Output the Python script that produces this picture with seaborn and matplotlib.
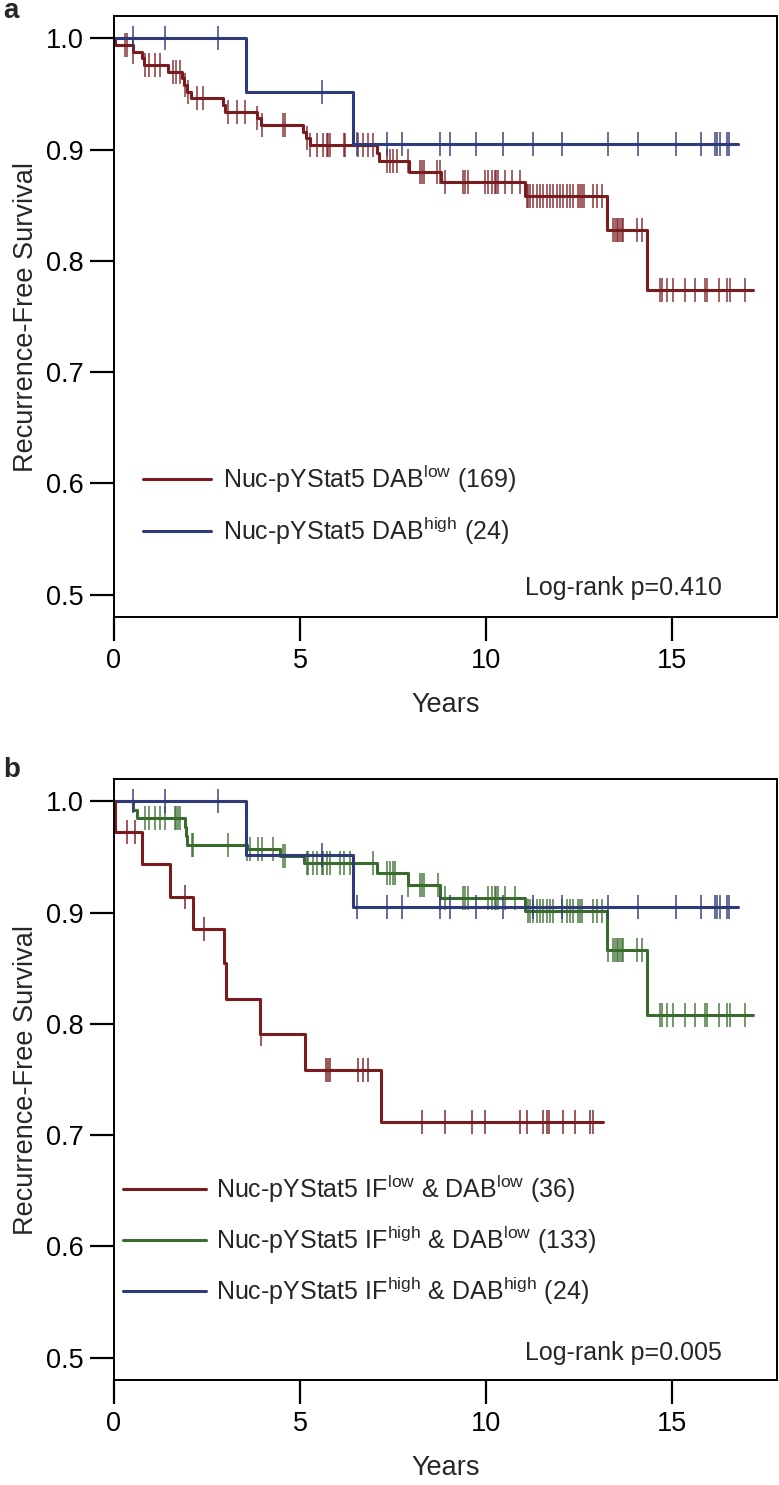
"""Kaplan-Meier recurrence-free survival by nuclear pYStat5 status (panels a and b)."""

import matplotlib
matplotlib.use("Agg")
import matplotlib.pyplot as plt
from matplotlib.lines import Line2D
import numpy as np
import seaborn as sns

sns.set_theme(style="ticks")
plt.rcParams["font.family"] = ["Liberation Sans", "DejaVu Sans"]
plt.rcParams["mathtext.fontset"] = "custom"
plt.rcParams["mathtext.rm"] = "Liberation Sans"

RED = "#7a1b1f"
BLUE = "#2e3a7a"
GREEN = "#386b2c"

# ---- panel a: DAB low (red) -------------------------------------------------
red_a_times = [0.03, 0.50, 0.75, 0.80, 1.45, 1.82, 1.88, 1.95, 2.08, 2.94, 2.98,
               3.84, 3.95, 5.09, 5.15, 5.27, 7.06, 7.12, 7.93, 8.80, 11.05, 13.24, 14.32]
red_a_surv = [0.994, 0.988, 0.982, 0.976, 0.970, 0.964, 0.958, 0.952, 0.946, 0.940, 0.934,
              0.928, 0.922, 0.916, 0.910, 0.904, 0.897, 0.890, 0.880, 0.871, 0.858, 0.828, 0.774]
red_a_end = 17.18
red_a_censor = [0.30, 0.34, 0.52, 0.83, 0.95, 1.10, 1.24, 1.59, 1.68, 1.77, 1.91, 2.00, 2.22,
                2.40, 3.07, 3.30, 3.52, 3.84, 3.97, 4.55, 4.60, 5.18, 5.27, 5.45, 5.63, 5.72,
                5.76, 5.81, 6.17, 6.21, 6.57, 6.70, 6.84, 6.97, 7.33, 7.42, 7.51, 7.60, 7.91,
                8.23, 8.27, 8.32, 8.68, 8.76, 8.90, 9.39, 9.43, 9.52, 9.97, 10.06, 10.15,
                10.24, 10.28, 10.33, 10.51, 10.69, 10.91, 11.09, 11.14, 11.18, 11.27, 11.36,
                11.45, 11.54, 11.63, 11.72, 11.81, 11.90, 11.99, 12.08, 12.17, 12.26, 12.35,
                12.48, 12.53, 12.57, 12.62, 12.88, 12.97, 13.11, 13.42, 13.47, 13.51, 13.56,
                13.60, 13.65, 13.69, 14.05, 14.18, 14.68, 14.72, 14.86, 15.03, 15.35, 15.62,
                15.89, 15.93, 16.25, 16.47, 16.56, 16.96]

# ---- DAB high (blue), same group in both panels ------------------------------
blue_times = [3.55, 6.42]
blue_surv = [0.952, 0.905]
blue_end = 16.77
blue_censor = [0.52, 1.38, 2.80, 5.58, 6.54, 7.33, 7.75, 8.77, 9.03, 9.72, 10.46, 11.25,
               12.05, 13.29, 14.08, 15.11, 15.77, 16.16, 16.22, 16.29, 16.47, 16.54]

# ---- panel b: IF low & DAB low (red) -----------------------------------------
red_b_times = [0.02, 0.76, 1.51, 2.13, 2.95, 3.00, 3.92, 5.13, 7.17]
red_b_surv = [0.972, 0.944, 0.914, 0.885, 0.855, 0.822, 0.791, 0.759, 0.712]
red_b_end = 13.15
red_b_censor = [0.34, 0.56, 1.91, 2.43, 3.95, 5.70, 5.76, 5.81, 6.57, 6.70, 6.84, 8.27,
                8.90, 9.61, 9.97, 10.91, 11.09, 11.54, 11.63, 11.70, 12.08, 12.39, 12.80, 12.88]

# ---- panel b: IF high & DAB low (green) --------------------------------------
green_times = [0.52, 0.62, 1.90, 1.93, 1.97, 3.57, 4.45, 5.10, 7.06, 7.91, 8.76,
               11.05, 13.24, 14.32]
green_surv = [0.9925, 0.985, 0.977, 0.969, 0.961, 0.957, 0.951, 0.945, 0.936, 0.925,
              0.913, 0.901, 0.866, 0.808]
green_end = 17.18
green_censor = [0.83, 0.95, 1.10, 1.24, 1.37, 1.64, 1.68, 1.73, 1.77, 2.09, 2.13, 3.07,
                3.57, 3.66, 3.88, 3.97, 4.28, 4.55, 4.60, 5.18, 5.22, 5.36, 5.45, 5.58,
                5.63, 5.72, 5.81, 6.08, 6.17, 6.34, 6.97, 7.33, 7.42, 7.51, 7.55, 7.91,
                8.23, 8.27, 8.32, 8.72, 8.76, 8.90, 9.39, 9.43, 9.52, 10.06, 10.15, 10.24,
                10.28, 10.33, 10.51, 10.78, 11.14, 11.18, 11.27, 11.36, 11.45, 11.54,
                11.63, 11.72, 11.81, 12.03, 12.17, 12.26, 12.35, 12.48, 12.53, 12.57,
                12.88, 12.97, 13.11, 13.29, 13.42, 13.47, 13.51, 13.56, 13.60, 13.65,
                13.69, 14.05, 14.18, 14.68, 14.72, 14.86, 15.03, 15.35, 15.62, 15.89,
                15.93, 16.25, 16.47, 16.56, 16.96]

labels_a = [r"Nuc-pYStat5 DAB$\mathregular{^{low}}$ (169)",
            r"Nuc-pYStat5 DAB$\mathregular{^{high}}$ (24)"]
labels_b = [r"Nuc-pYStat5 IF$\mathregular{^{low}}$ & DAB$\mathregular{^{low}}$ (36)",
            r"Nuc-pYStat5 IF$\mathregular{^{high}}$ & DAB$\mathregular{^{low}}$ (133)",
            r"Nuc-pYStat5 IF$\mathregular{^{high}}$ & DAB$\mathregular{^{high}}$ (24)"]
pvalues = ["Log-rank p=0.410", "Log-rank p=0.005"]
x_ticks = [0, 5, 10, 15]
y_ticks = [0.5, 0.6, 0.7, 0.8, 0.9, 1.0]

TICK_FS = 19.5
TEXT_FS = 18


def km_curve(ax, times, surv, end, censor, color, censor_alpha=0.8):
    xs = np.array([0.0] + list(times) + [end])
    ys = np.array([1.0] + list(surv) + [surv[-1]])
    sns.lineplot(x=xs, y=ys, ax=ax, color=color, linewidth=2.2,
                 drawstyle="steps-post", estimator=None, sort=False)
    # censor ticks sit on the curve level at their time
    idx = np.searchsorted(xs[:-1], censor, side="right") - 1
    ax.plot(censor, ys[idx], linestyle="none", marker="|", markersize=17,
            markeredgewidth=1.3, color=color, alpha=censor_alpha)


def style_axes(ax):
    ax.set_xlim(0, 17.82)
    ax.set_ylim(0.48, 1.02)
    ax.set_xticks(x_ticks)
    ax.set_yticks(y_ticks)
    ax.set_yticklabels([f"{v:.1f}" for v in y_ticks])
    ax.tick_params(direction="out", length=17, width=1.6, labelsize=TICK_FS,
                   pad=5, colors="black")
    for sp in ax.spines.values():
        sp.set_linewidth(1.4)
        sp.set_color("black")
    ax.set_xlabel("Years", fontsize=TICK_FS, labelpad=13)
    ax.set_ylabel("Recurrence-Free Survival", fontsize=TICK_FS, labelpad=5)
    ax.grid(False)


fig = plt.figure(figsize=(7.79, 14.85), dpi=100)
ax_a = fig.add_axes([0.1463, 0.5845, 0.8511, 0.4047])
ax_b = fig.add_axes([0.1463, 0.0707, 0.8511, 0.4047])

# panel a
km_curve(ax_a, red_a_times, red_a_surv, red_a_end, red_a_censor, RED, 0.75)
km_curve(ax_a, blue_times, blue_surv, blue_end, blue_censor, BLUE)
style_axes(ax_a)
handles_a = [Line2D([], [], color=RED, lw=2.2), Line2D([], [], color=BLUE, lw=2.2)]
ax_a.legend(handles_a, labels_a, loc="lower left", bbox_to_anchor=(0.029, 0.10),
            frameon=False, fontsize=TEXT_FS, handlelength=2.7, handletextpad=0.5,
            labelspacing=0.8, borderaxespad=0)
ax_a.text(0.917, 0.048, pvalues[0], transform=ax_a.transAxes, ha="right",
          va="center", fontsize=TEXT_FS)

# panel b
km_curve(ax_b, green_times, green_surv, green_end, green_censor, GREEN, 0.75)
km_curve(ax_b, blue_times, blue_surv, blue_end, blue_censor, BLUE)
km_curve(ax_b, red_b_times, red_b_surv, red_b_end, red_b_censor, RED)
style_axes(ax_b)
handles_b = [Line2D([], [], color=RED, lw=2.2), Line2D([], [], color=GREEN, lw=2.2),
             Line2D([], [], color=BLUE, lw=2.2)]
ax_b.legend(handles_b, labels_b, loc="lower left", bbox_to_anchor=(-0.001, 0.105),
            frameon=False, fontsize=TEXT_FS, handlelength=3.3, handletextpad=0.4,
            labelspacing=0.75, borderaxespad=0)
ax_b.text(0.917, 0.045, pvalues[1], transform=ax_b.transAxes, ha="right",
          va="center", fontsize=TEXT_FS)

fig.text(0.004, 1 - 11 / 1485, "a", fontsize=20, fontweight="bold", va="center")
fig.text(0.004, 1 - 770 / 1485, "b", fontsize=20, fontweight="bold", va="center")

fig.savefig("out.png", dpi=100)
